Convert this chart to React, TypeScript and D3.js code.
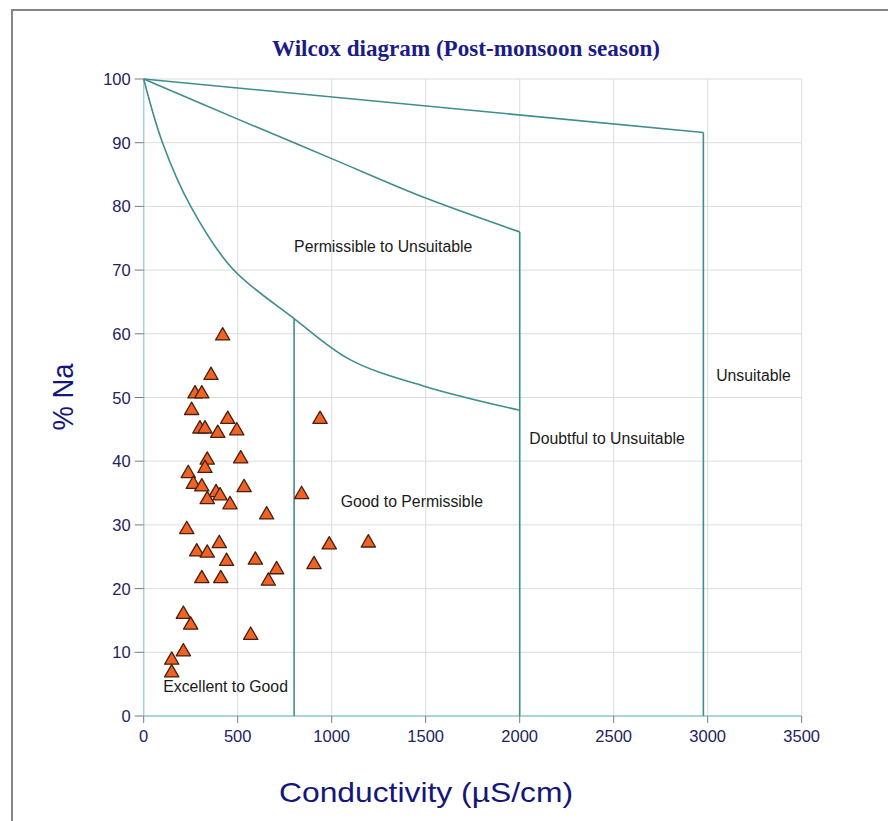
import React from "react";
import * as d3 from "d3";

// Sample values: electrical conductivity (µS/cm) and sodium percentage
const conductivity = [
  420, 358, 273, 309, 255, 299, 326, 447, 394, 495, 338, 326, 516, 237, 264,
  309, 385, 534, 406, 338, 459, 654, 840, 229, 402, 282, 338, 441, 594, 707,
  663, 309, 410, 211, 250, 569, 211, 149, 149, 938, 987, 1195, 906,
];
const sodiumPct = [
  60.0, 53.8, 50.9, 50.9, 48.3, 45.4, 45.4, 46.9, 44.7, 45.1, 40.5, 39.2, 40.7,
  38.4, 36.7, 36.3, 35.4, 36.2, 34.9, 34.3, 33.5, 31.9, 35.1, 29.6, 27.4, 26.1,
  25.9, 24.6, 24.8, 23.3, 21.5, 21.9, 21.9, 16.3, 14.6, 13.0, 10.4, 9.1, 7.1,
  46.9, 27.2, 27.5, 24.1,
];

// Wilcox class boundaries
const upperLineX = [0, 2977];
const upperLineY = [100, 91.6];
const middleLineX = [0, 500, 1000, 1500, 2000];
const middleLineY = [100, 93.7, 87.5, 81.3, 76];
const lowerCurveX = [0, 100, 250, 470, 800, 1100, 1500, 2000];
const lowerCurveY = [100, 90, 80, 70.3, 62.4, 55.9, 51.7, 48];
const dividerX = [800, 2000, 2977];
const dividerTop = [62.4, 76, 91.6];

const xTicks = [0, 500, 1000, 1500, 2000, 2500, 3000, 3500];
const yTicks = [0, 10, 20, 30, 40, 50, 60, 70, 80, 90, 100];

const regionLabels = [
  "Permissible to Unsuitable",
  "Unsuitable",
  "Doubtful to Unsuitable",
  "Good to Permissible",
  "Excellent to Good",
];
const regionLabelX = [800, 3045, 2051, 1048, 104];
const regionLabelY = [73.7, 53.5, 43.6, 33.7, 4.6];

const W = 888;
const H = 821;
const left = 143.7;
const right = 801.7;
const top = 79;
const bottom = 716;

const sans = "Arial, 'Liberation Sans', sans-serif";
const lineColor = "#3f8d8d";

// Triangle centred on its bounding box rather than its centroid
const boxTriangle = {
  draw(ctx: any, size: number) {
    const s = Math.sqrt((size * 4) / Math.sqrt(3));
    const h = (s * Math.sqrt(3)) / 2;
    ctx.moveTo(0, -h / 2);
    ctx.lineTo(s / 2, h / 2);
    ctx.lineTo(-s / 2, h / 2);
    ctx.closePath();
  },
};

export default function App() {
  const x = d3.scaleLinear().domain([0, 3500]).range([left, right]);
  const y = d3.scaleLinear().domain([0, 100]).range([bottom, top]);

  const straight = d3
    .line<[number, number]>()
    .x((d) => x(d[0]))
    .y((d) => y(d[1]));
  const smooth = d3
    .line<[number, number]>()
    .x((d) => x(d[0]))
    .y((d) => y(d[1]))
    .curve(d3.curveCatmullRom.alpha(0.5));

  const upper = straight(upperLineX.map((v, i) => [v, upperLineY[i]]));
  const middle = smooth(middleLineX.map((v, i) => [v, middleLineY[i]]));
  const lower = smooth(lowerCurveX.map((v, i) => [v, lowerCurveY[i]]));
  const marker = d3.symbol().type(boxTriangle as any).size(88)();

  return (
    <svg
      width={W}
      height={H}
      style={{ position: "fixed", left: 0, top: 0, background: "#fff" }}
    >
      <rect x={0} y={0} width={W} height={H} fill="#fff" />
      {/* outer frame */}
      <path d={`M12,${H} L12,10 L${W},10`} fill="none" stroke="#858585" strokeWidth={2} />

      <text
        x={466}
        y={48}
        textAnchor="middle"
        dominantBaseline="central"
        fontFamily="'Liberation Serif', 'Times New Roman', serif"
        fontWeight="bold"
        fontSize={24}
        fill="#1c1c86"
        textLength={388}
        lengthAdjust="spacingAndGlyphs"
      >
        Wilcox diagram (Post-monsoon season)
      </text>

      {/* grid */}
      <g stroke="#dcdcdc" strokeWidth={1}>
        {xTicks.slice(1).map((t) => (
          <line key={"gx" + t} x1={x(t)} x2={x(t)} y1={y(0)} y2={y(100)} />
        ))}
        {yTicks.slice(1).map((t) => (
          <line key={"gy" + t} x1={x(0)} x2={x(3500)} y1={y(t)} y2={y(t)} />
        ))}
      </g>

      {/* axes */}
      <line x1={x(0)} x2={x(0)} y1={y(0)} y2={y(100)} stroke="#a6cfdb" strokeWidth={1.5} />
      <line x1={x(0)} x2={x(3500)} y1={y(0)} y2={y(0)} stroke="#8fc7c4" strokeWidth={1.5} />
      <g stroke="#7a7a7a" strokeWidth={1}>
        {yTicks.map((t) => (
          <line key={"ty" + t} x1={x(0) - 9} x2={x(0)} y1={y(t)} y2={y(t)} />
        ))}
        {xTicks.map((t) => (
          <line key={"tx" + t} x1={x(t)} x2={x(t)} y1={y(0)} y2={y(0) + 7} />
        ))}
      </g>
      <g fontFamily={sans} fontSize={16.5} fill="#23235e">
        {yTicks.map((t) => (
          <text key={"ly" + t} x={x(0) - 13} y={y(t)} textAnchor="end" dominantBaseline="central">
            {t}
          </text>
        ))}
        {xTicks.map((t) => (
          <text key={"lx" + t} x={x(t)} y={y(0) + 20} textAnchor="middle" dominantBaseline="central">
            {t}
          </text>
        ))}
      </g>

      {/* class boundaries */}
      <g fill="none" stroke={lineColor} strokeWidth={1.6}>
        <path d={upper ?? ""} />
        <path d={middle ?? ""} />
        <path d={lower ?? ""} />
        {dividerX.map((v, i) => (
          <line key={"dv" + v} x1={x(v)} x2={x(v)} y1={y(dividerTop[i])} y2={y(0)} />
        ))}
      </g>

      {/* region names */}
      <g fontFamily={sans} fontSize={15.8} fill="#1a1a1a">
        {regionLabels.map((s, i) => (
          <text key={s} x={x(regionLabelX[i])} y={y(regionLabelY[i])} dominantBaseline="central">
            {s}
          </text>
        ))}
      </g>

      {/* samples */}
      <g fill="#ef6327" stroke="#4a1f0a" strokeWidth={1.3} strokeLinejoin="round">
        {conductivity.map((c, i) => (
          <path key={"p" + i} d={marker ?? ""} transform={`translate(${x(c)},${y(sodiumPct[i])})`} />
        ))}
      </g>

      {/* axis titles */}
      <text
        x={426}
        y={792}
        textAnchor="middle"
        dominantBaseline="central"
        fontFamily={sans}
        fontSize={28}
        fill="#16167a"
        textLength={294}
        lengthAdjust="spacingAndGlyphs"
      >
        Conductivity (µS/cm)
      </text>
      <text
        transform="translate(63,397) rotate(-90)"
        textAnchor="middle"
        dominantBaseline="central"
        fontFamily={sans}
        fontSize={29}
        fill="#16167a"
        textLength={67}
        lengthAdjust="spacingAndGlyphs"
      >
        % Na
      </text>
    </svg>
  );
}
